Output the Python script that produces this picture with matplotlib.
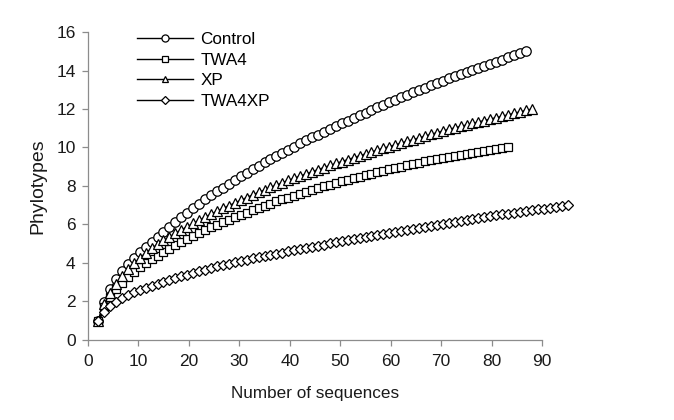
import numpy as np
import matplotlib
matplotlib.use("Agg")
import matplotlib.pyplot as plt

plt.rcParams["font.family"] = ["Liberation Sans", "DejaVu Sans"]

# ==========================================
# Rarefaction data (phylotypes per number of sequences)
# ==========================================
control = [
    1.00, 1.98, 2.64, 3.15, 3.58, 3.95, 4.28, 4.58, 4.85, 5.10,
    5.37, 5.63, 5.89, 6.14, 6.38, 6.62, 6.85, 7.08, 7.30, 7.52,
    7.72, 7.92, 8.12, 8.31, 8.50, 8.69, 8.87, 9.05, 9.23, 9.40,
    9.57, 9.73, 9.89, 10.05, 10.21, 10.37, 10.52, 10.67, 10.82, 10.97,
    11.11, 11.25, 11.39, 11.53, 11.67, 11.81, 11.95, 12.09, 12.22, 12.35,
    12.48, 12.61, 12.74, 12.87, 12.99, 13.11, 13.23, 13.35, 13.47, 13.59,
    13.70, 13.81, 13.92, 14.03, 14.14, 14.25, 14.36, 14.46, 14.57, 14.68,
    14.79, 14.89, 15.00,
]
twa4 = [
    1.00, 1.70, 2.22, 2.63, 2.97, 3.27, 3.53, 3.77, 3.99, 4.19,
    4.38, 4.56, 4.74, 4.91, 5.08, 5.24, 5.40, 5.55, 5.70, 5.85,
    5.98, 6.11, 6.24, 6.37, 6.50, 6.62, 6.74, 6.86, 6.98, 7.09,
    7.20, 7.30, 7.40, 7.50, 7.60, 7.70, 7.80, 7.89, 7.98, 8.07,
    8.16, 8.24, 8.32, 8.40, 8.48, 8.56, 8.64, 8.72, 8.80, 8.87,
    8.94, 9.01, 9.08, 9.15, 9.22, 9.28, 9.34, 9.40, 9.46, 9.52,
    9.57, 9.62, 9.67, 9.72, 9.77, 9.82, 9.86, 9.91, 9.96, 10.00,
]
xp = [
    1.00, 1.85, 2.45, 2.92, 3.32, 3.67, 3.98, 4.26, 4.52, 4.76,
    4.97, 5.17, 5.36, 5.54, 5.72, 5.89, 6.06, 6.22, 6.38, 6.54,
    6.69, 6.84, 6.98, 7.12, 7.26, 7.40, 7.54, 7.67, 7.80, 7.93,
    8.05, 8.17, 8.29, 8.41, 8.52, 8.63, 8.74, 8.85, 8.96, 9.07,
    9.17, 9.27, 9.37, 9.47, 9.57, 9.67, 9.77, 9.87, 9.96, 10.05,
    10.14, 10.23, 10.32, 10.41, 10.50, 10.59, 10.68, 10.77, 10.86, 10.94,
    11.02, 11.10, 11.17, 11.25, 11.33, 11.40, 11.48, 11.55, 11.63, 11.70,
    11.78, 11.85, 11.93, 12.00,
]
twa4xp = [
    1.00, 1.45, 1.75, 1.98, 2.17, 2.33, 2.47, 2.60, 2.71, 2.81,
    2.92, 3.02, 3.12, 3.22, 3.31, 3.40, 3.49, 3.58, 3.66, 3.74,
    3.82, 3.89, 3.96, 4.03, 4.10, 4.17, 4.24, 4.30, 4.36, 4.42,
    4.48, 4.54, 4.60, 4.66, 4.72, 4.78, 4.84, 4.90, 4.96, 5.02,
    5.08, 5.13, 5.19, 5.24, 5.30, 5.35, 5.41, 5.46, 5.52, 5.57,
    5.62, 5.68, 5.73, 5.78, 5.83, 5.89, 5.94, 5.99, 6.04, 6.09,
    6.14, 6.19, 6.24, 6.28, 6.33, 6.38, 6.43, 6.47, 6.52, 6.57,
    6.61, 6.66, 6.70, 6.74, 6.79, 6.83, 6.87, 6.92, 6.96, 7.00,
]

series_names = ["Control", "TWA4", "XP", "TWA4XP"]
series_values = [control, twa4, xp, twa4xp]
series_markers = ["o", "s", "^", "D"]
marker_sizes = [6.8, 6.2, 6.6, 5.2]

x_ticks = list(range(0, 91, 10))
y_ticks = list(range(0, 17, 2))

# the printed axis is offset/stretched relative to the sample index
SEQ_OFFSET = 0.822
SEQ_STEP = 1.178


def to_axis(n):
    return SEQ_OFFSET + SEQ_STEP * np.asarray(n, dtype=float)


def from_axis(v):
    return (np.asarray(v, dtype=float) - SEQ_OFFSET) / SEQ_STEP


AXIS_GREY = "#8c8c8c"
TEXT_COL = "#1a1a1a"

fig = plt.figure(figsize=(6.74, 4.2), dpi=100)
ax = fig.add_axes([0.1306, 0.1905, 0.6736, 0.7333])

for name, vals, mk, ms in zip(series_names, series_values, series_markers, marker_sizes):
    n = np.arange(1, len(vals) + 1)
    ax.plot(n, vals, color="black", linewidth=1.0, marker=mk, markersize=ms,
            markerfacecolor="white", markeredgecolor="black", markeredgewidth=0.9,
            label=name, clip_on=False)

ax.set_xlim(from_axis(0), from_axis(90))
ax.set_ylim(0, 16)
ax.set_yticks(y_ticks)
ax.set_xticks([])

for side in ["top", "right", "bottom"]:
    ax.spines[side].set_visible(False)
ax.spines["left"].set_color(AXIS_GREY)
ax.spines["left"].set_linewidth(0.9)
ax.tick_params(axis="y", direction="out", length=4, width=0.9, color=AXIS_GREY,
               labelsize=12.5, pad=5, labelcolor=TEXT_COL)

sec = ax.secondary_xaxis("bottom", functions=(to_axis, from_axis))
sec.set_xticks(x_ticks)
sec.spines["bottom"].set_color(AXIS_GREY)
sec.spines["bottom"].set_linewidth(0.9)
sec.tick_params(axis="x", direction="out", length=4, width=0.9, color=AXIS_GREY,
                labelsize=12.5, pad=6, labelcolor=TEXT_COL)
sec.set_xlabel("Number of sequences", fontsize=12.3, labelpad=12, color=TEXT_COL)
ax.set_ylabel("Phylotypes", fontsize=14, labelpad=7, color=TEXT_COL)

ax.legend(loc="upper left", bbox_to_anchor=(0.108, 1.0), frameon=False,
          fontsize=12.3, handlelength=3.3, handletextpad=0.4, labelspacing=0.33,
          borderpad=0, borderaxespad=0, markerscale=0.75)

plt.savefig("out.png", dpi=100)
plt.close()
